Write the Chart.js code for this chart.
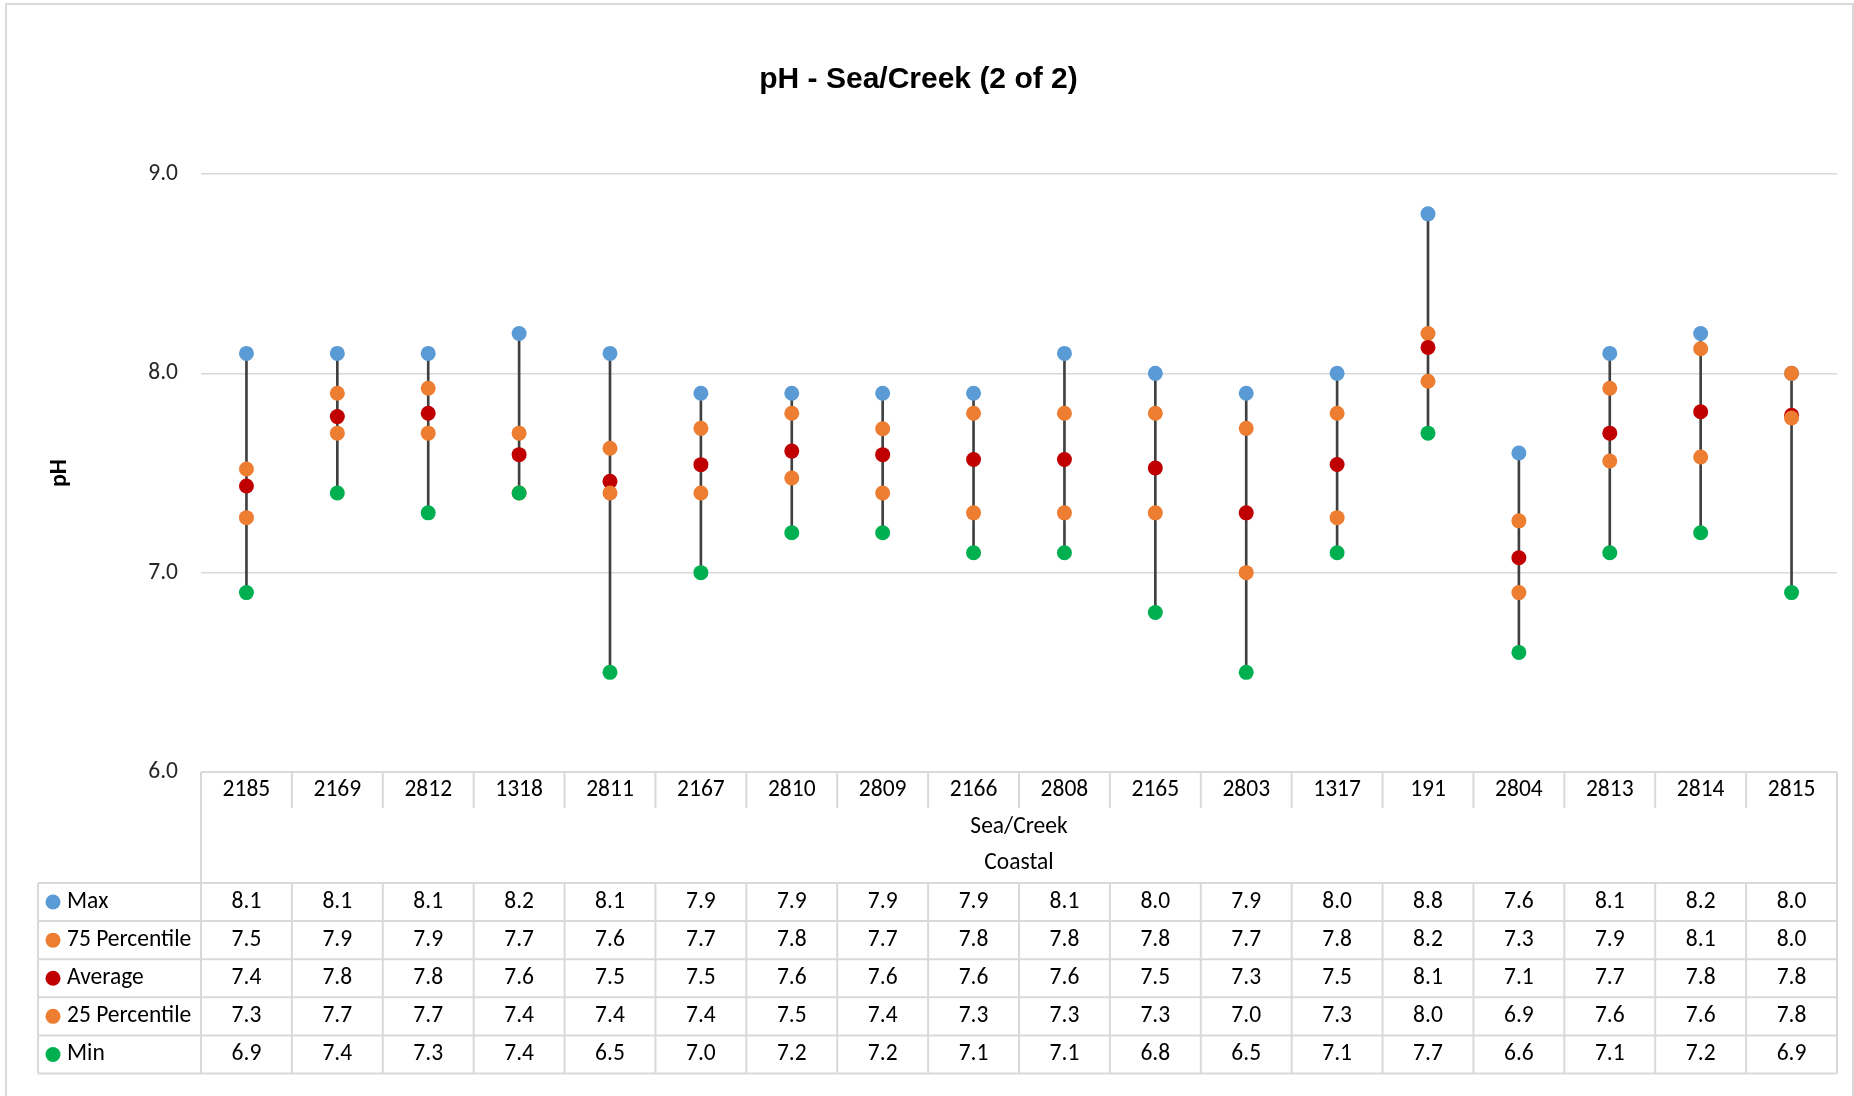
<!DOCTYPE html>
<html>
<head>
<meta charset="utf-8">
<script src="https://cdn.jsdelivr.net/npm/chart.js@4.4.0/dist/chart.umd.min.js"></script>
<style>
    html, body { margin: 0; padding: 0; background: #fff; }
</style>
</head>
<body>
<canvas id="chart_ph" width="1854" height="1096"></canvas>
<script>
// sites along the x axis
const sites = ['2185', '2169', '2812', '1318', '2811', '2167', '2810', '2809', '2166',
               '2808', '2165', '2803', '1317', '191', '2804', '2813', '2814', '2815'];
const groupLabels = ['Sea/Creek', 'Coastal'];

// pH statistics per site
const maxVals = [8.1, 8.1, 8.1, 8.2, 8.1, 7.9, 7.9, 7.9, 7.9, 8.1, 8.0, 7.9, 8.0, 8.8, 7.6, 8.1, 8.2, 8.0];
const p75Vals = [7.52, 7.9, 7.925, 7.7, 7.624, 7.724, 7.8, 7.722, 7.8, 7.8, 7.8, 7.724, 7.8, 8.2, 7.26, 7.925, 8.123, 8.0];
const avgVals = [7.435, 7.783, 7.8, 7.592, 7.458, 7.542, 7.61, 7.592, 7.568, 7.568, 7.525, 7.3, 7.543, 8.13, 7.075, 7.7, 7.807, 7.79];
const p25Vals = [7.276, 7.7, 7.7, 7.4, 7.4, 7.4, 7.475, 7.4, 7.3, 7.3, 7.3, 7.0, 7.276, 7.96, 6.9, 7.56, 7.58, 7.776];
const minVals = [6.9, 7.4, 7.3, 7.4, 6.5, 7.0, 7.2, 7.2, 7.1, 7.1, 6.8, 6.5, 7.1, 7.7, 6.6, 7.1, 7.2, 6.9];

const seriesNames = ['Max', '75 Percentile', 'Average', '25 Percentile', 'Min'];
const seriesValues = [maxVals, p75Vals, avgVals, p25Vals, minVals];
const seriesColors = ['#5B9BD5', '#ED7D31', '#C00000', '#ED7D31', '#00B050'];

const FONT = 'Carlito, Lato, sans-serif';
const FONT_SIZE = 23.5;
const GRID = '#d9d9d9';

// draws the chart frame and the data table under the x axis
const dataTablePlugin = {
    id: 'dataTable',
    beforeDraw(chart) {
        const ctx = chart.ctx;
        ctx.save();
        ctx.strokeStyle = GRID;
        ctx.lineWidth = 2;
        ctx.strokeRect(6, 4, chart.width - 7, chart.height + 20);
        ctx.restore();
    },
    afterDraw(chart) {
        const ctx = chart.ctx;
        const xs = chart.scales.x;
        const n = sites.length;
        const colW = xs.width / n;
        const top = xs.top;
        const catBottom = top + 36;
        const tableTop = top + 111;
        const rowH = 38.1;
        const tableBottom = tableTop + rowH * seriesNames.length;
        const legendLeft = 38;

        ctx.save();
        ctx.strokeStyle = GRID;
        ctx.lineWidth = 2;
        ctx.beginPath();
        ctx.moveTo(xs.left, top);
        ctx.lineTo(xs.right, top);
        for (let i = 0; i <= n; i++) {
            const px = xs.left + i * colW;
            if (i === 0 || i === n) {
                ctx.moveTo(px, top);
                ctx.lineTo(px, tableBottom);
            } else {
                ctx.moveTo(px, top);
                ctx.lineTo(px, catBottom);
                ctx.moveTo(px, tableTop);
                ctx.lineTo(px, tableBottom);
            }
        }
        for (let r = 0; r <= seriesNames.length; r++) {
            const py = tableTop + r * rowH;
            ctx.moveTo(legendLeft, py);
            ctx.lineTo(xs.right, py);
        }
        ctx.moveTo(legendLeft, tableTop);
        ctx.lineTo(legendLeft, tableBottom);
        ctx.stroke();

        ctx.fillStyle = '#000';
        ctx.font = FONT_SIZE + 'px ' + FONT;
        ctx.textBaseline = 'middle';
        ctx.textAlign = 'center';
        const midX = (xs.left + xs.right) / 2;
        ctx.fillText(groupLabels[0], midX, top + 55);
        ctx.fillText(groupLabels[1], midX, top + 91);

        seriesNames.forEach((name, r) => {
            const cy = tableTop + r * rowH + rowH / 2;
            ctx.fillStyle = seriesColors[r];
            ctx.beginPath();
            ctx.arc(legendLeft + 15, cy, 7.5, 0, Math.PI * 2);
            ctx.fill();
            ctx.fillStyle = '#000';
            ctx.textAlign = 'left';
            ctx.fillText(name, legendLeft + 29, cy);
            ctx.textAlign = 'center';
            seriesValues[r].forEach((v, i) => {
                ctx.fillText(v.toFixed(1), xs.getPixelForValue(i), cy);
            });
        });
        ctx.restore();
    }
};

const pointSet = (idx, order) => ({
    type: 'line',
    label: seriesNames[idx],
    data: seriesValues[idx],
    showLine: false,
    pointRadius: 7.5,
    pointHoverRadius: 7.5,
    pointBorderWidth: 0,
    pointBackgroundColor: seriesColors[idx],
    pointBorderColor: seriesColors[idx],
    order: order
});

const ctx = document.getElementById('chart_ph');

new Chart(ctx, {
    type: 'bar',
    data: {
        labels: sites,
        datasets: [
            pointSet(4, 0),
            pointSet(3, 1),
            pointSet(2, 2),
            pointSet(1, 3),
            pointSet(0, 4),
            {
                type: 'bar',
                label: 'High-Low',
                data: minVals.map((m, i) => [m, maxVals[i]]),
                backgroundColor: '#404040',
                barThickness: 2,
                order: 10
            }
        ]
    },
    options: {
        responsive: false,
        animation: false,
        layout: { padding: { left: 0, right: 17, top: 0, bottom: 0 } },
        plugins: {
            legend: { display: false },
            tooltip: { enabled: false },
            title: {
                display: true,
                text: 'pH - Sea/Creek (2 of 2)',
                color: '#000',
                font: { family: "'Liberation Sans Narrow', 'Liberation Sans', Arial, sans-serif", size: 30, weight: 'bold' },
                padding: { top: 62, bottom: 76 }
            }
        },
        scales: {
            x: {
                offset: true,
                grid: { display: false, drawTicks: false },
                border: { display: false },
                ticks: { color: '#000', padding: 4, font: { family: FONT, size: FONT_SIZE } },
                afterFit: (s) => { s.height = 324; }
            },
            y: {
                min: 6,
                max: 9,
                ticks: {
                    stepSize: 1,
                    padding: 23,
                    color: '#262626',
                    font: { family: FONT, size: FONT_SIZE },
                    callback: (v) => v.toFixed(1)
                },
                grid: { color: GRID, lineWidth: 1.5, drawTicks: false },
                border: { display: false },
                title: {
                    display: true,
                    text: 'pH',
                    color: '#000',
                    font: { family: FONT, size: 24, weight: 'bold' },
                    padding: { top: 46, bottom: 0 }
                },
                afterFit: (s) => { s.width = 201; }
            }
        }
    },
    plugins: [dataTablePlugin]
});
</script>
</body>
</html>
